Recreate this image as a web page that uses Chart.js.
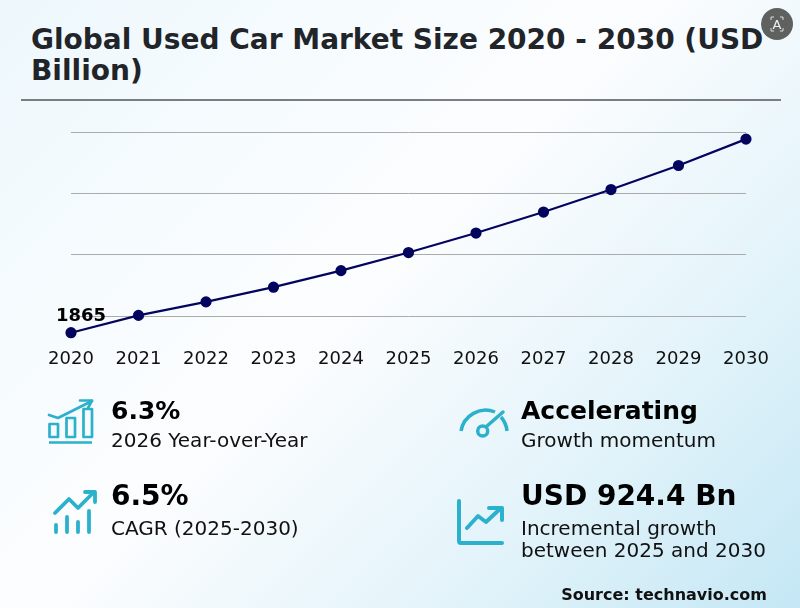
<!DOCTYPE html>
<html>
<head>
<meta charset="utf-8">
<script src="https://cdn.jsdelivr.net/npm/chart.js@4"></script>
<style>
  html, body { margin: 0; padding: 0; }
  body {
    width: 800px; height: 608px; position: relative; overflow: hidden;
    font-family: "DejaVu Sans", sans-serif; color: #000;
    background: linear-gradient(135deg, #edf7fc 0%, #f5fbfe 22%, #fcfdfe 46%, #e2f3fa 75%, #c4e7f5 100%);
  }
  .title {
    position: absolute; left: 31px; top: 24px; width: 745px; margin: 0;
    font-size: 28px; line-height: 31px; font-weight: bold; color: #212529;
  }
  .rule { position: absolute; left: 21px; top: 99px; width: 760px; height: 2px; background: #7b7e81; }
  #chartBox { position: absolute; left: 0; top: 0; width: 800px; height: 380px; }
  #chart { display: block; }
  .kpi { position: absolute; }
  .kpi b { display: block; font-size: 25px; line-height: 30px; }
  .kpi b.big { font-size: 28px; }
  .kpi span { display: block; font-size: 20px; line-height: 22px; color: #111; margin-top: 3px; }
  .icons { position: absolute; left: 0; top: 0; fill: none; stroke: #2bb1cb; stroke-linecap: round; stroke-linejoin: round; }
  .source { position: absolute; right: 33px; top: 585px; font-size: 16px; font-weight: bold; color: #111; }
  .badge { position: absolute; left: 761px; top: 8px; width: 32px; height: 32px; }
</style>
</head>
<body>
<h1 class="title">Global Used Car Market Size 2020 - 2030 (USD<br>Billion)</h1>
<div class="rule"></div>
<div id="chartBox"><canvas id="chart" width="800" height="380"></canvas></div>

<svg class="badge" viewBox="0 0 32 32">
  <circle cx="16" cy="16" r="16" fill="#5f6060"/>
  <path d="M10 12V9h3M22 12V9h-3M10 20v3h3M22 20v3h-3" fill="none" stroke="#ddd" stroke-width="1"/>
  <text x="16" y="21" text-anchor="middle" font-size="13" fill="#eee" font-family="DejaVu Sans">A</text>
</svg>

<svg class="icons" width="800" height="608">
  <!-- growth bars -->
  <g stroke-width="2.700">
    <path d="M49 415L58 418 92 401"/><path d="M80 400.500H92L88 408"/>
    <rect x="49.500" y="424" width="8.500" height="13"/><rect x="66.500" y="418" width="8.500" height="19"/><rect x="83.500" y="409" width="8.500" height="28"/>
    <path d="M49 442.500H92" stroke-linecap="butt"/>
  </g>
  <!-- trend over bars -->
  <g stroke-width="3.800">
    <path d="M55 513L69 499 78 508 94 492"/><path d="M85 492H95V502"/>
    <path d="M56 525V532M67 517V532M78 522V532M89 511V532"/>
  </g>
  <!-- gauge -->
  <g stroke-width="3.500">
    <path d="M461 431A25 25 0 0 1 495 412" stroke-linecap="butt"/><path d="M501 417A25 25 0 0 1 507 431" stroke-linecap="butt"/>
    <circle cx="482.700" cy="431" r="5"/><path d="M487 426L503 412"/>
  </g>
  <!-- axes with rising line -->
  <g stroke-width="4">
    <path d="M459 501V541A2 2 0 0 0 461 543H502"/>
    <path d="M467 528L478 516 486 522 501 508"/><path d="M489 508H502V520"/>
  </g>
</svg>

<div class="kpi" style="left:111px;top:396px"><b>6.3%</b><span>2026 Year-over-Year</span></div>
<div class="kpi" style="left:111px;top:481px"><b class="big">6.5%</b><span style="margin-top:6px">CAGR (2025-2030)</span></div>
<div class="kpi" style="left:521px;top:396px"><b>Accelerating</b><span>Growth momentum</span></div>
<div class="kpi" style="left:521px;top:481px"><b class="big">USD 924.4 Bn</b><span style="margin-top:6px">Incremental growth<br>between 2025 and 2030</span></div>

<div class="source">Source: technavio.com</div>

<script>
const years = ['2020', '2021', '2022', '2023', '2024', '2025', '2026', '2027', '2028', '2029', '2030'];
const marketSize = [1865, 2006, 2116, 2236, 2371, 2518, 2677, 2848, 3031, 3227, 3442];
const gridValues = [2000, 2500, 3000, 3500];
const labelledPoints = [0];

// writes the value above the chosen points
const pointLabels = {
    id: 'pointLabels',
    afterDatasetsDraw(chart) {
        const ctx = chart.ctx;
        const pts = chart.getDatasetMeta(0).data;
        ctx.save();
        ctx.font = 'bold 18px "DejaVu Sans"';
        ctx.fillStyle = '#000';
        ctx.textBaseline = 'middle';
        ctx.textAlign = 'left';
        for (const i of labelledPoints) {
            ctx.fillText(String(marketSize[i]), pts[i].x - 15, pts[i].y - 16);
        }
        ctx.restore();
    }
};

new Chart(document.getElementById('chart').getContext('2d'), {
    type: 'line',
    data: {
        labels: years,
        datasets: [{
            data: marketSize,
            borderColor: '#03045e',
            backgroundColor: '#03045e',
            borderWidth: 2.2,
            pointRadius: 4.5,
            pointHoverRadius: 4.5,
            fill: false,
            tension: 0,
            clip: false
        }]
    },
    options: {
        responsive: false,
        animation: false,
        layout: { padding: { left: 71, right: 54, top: 132, bottom: 9.7 } },
        plugins: { legend: { display: false }, tooltip: { enabled: false } },
        scales: {
            x: {
                offset: false,
                grid: { display: false },
                border: { display: false },
                ticks: {
                    color: '#111',
                    font: { family: '"DejaVu Sans"', size: 18 },
                    maxRotation: 0,
                    autoSkip: false,
                    padding: 0
                }
            },
            y: {
                min: 1800,
                max: 3500,
                afterBuildTicks(axis) { axis.ticks = gridValues.map(v => ({ value: v })); },
                grid: { color: '#a9abad', lineWidth: 1, drawTicks: false },
                border: { display: false },
                ticks: { display: false }
            }
        }
    },
    plugins: [pointLabels]
});
</script>
</body>
</html>
